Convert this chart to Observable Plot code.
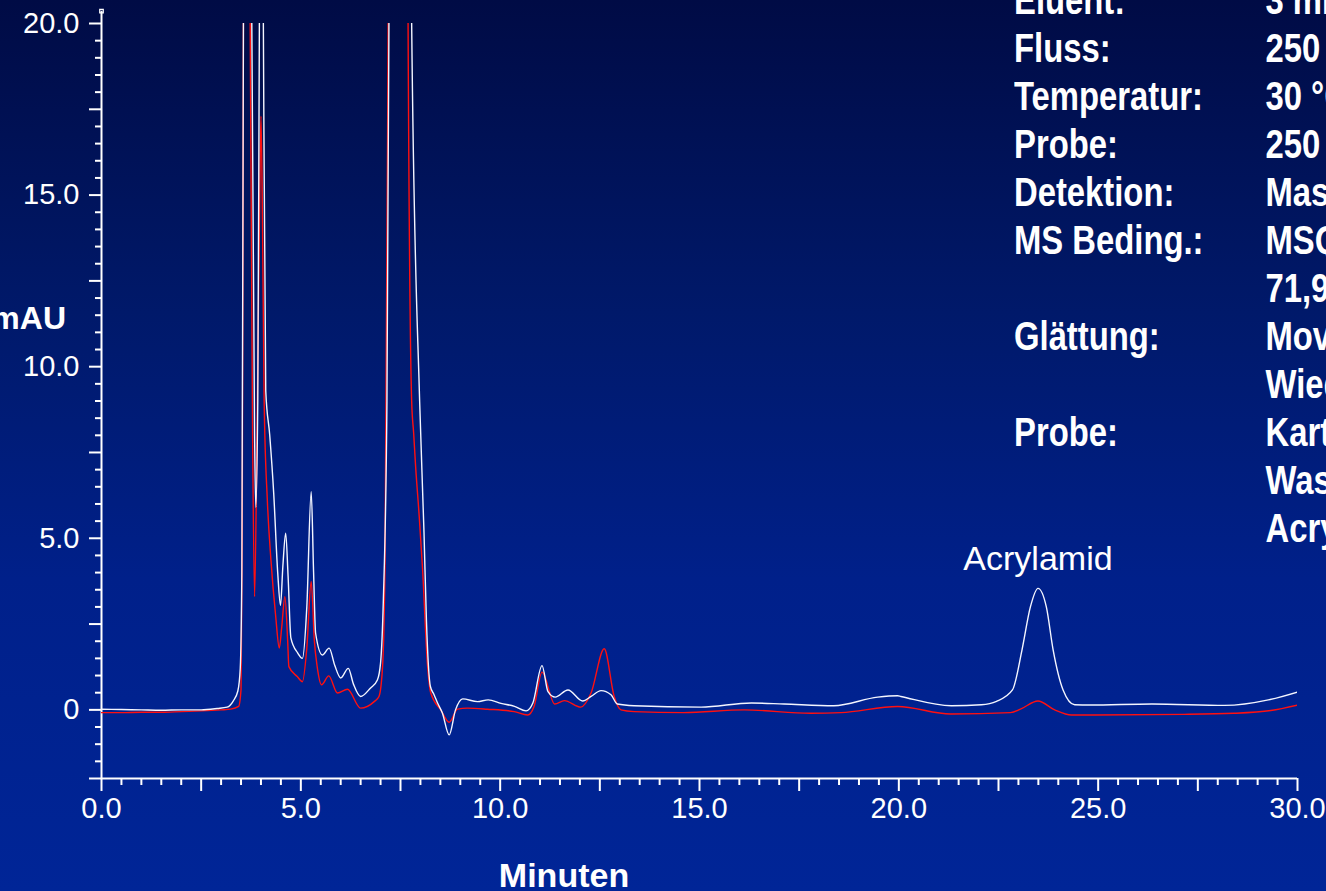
<!DOCTYPE html>
<html lang="de">
<head>
<meta charset="utf-8">
<title>Chromatogramm Acrylamid</title>
<script src="https://cdn.jsdelivr.net/npm/d3@7"></script>
<script src="https://cdn.jsdelivr.net/npm/@observablehq/plot@0.6"></script>
<style>
  html, body { margin: 0; padding: 0; width: 1326px; height: 891px; overflow: hidden; }
  body {
    position: relative;
    font-family: "Liberation Sans", Arial, sans-serif;
    color: #fff;
    background: linear-gradient(to bottom, #000b45 0%, #00196a 35%, #00208a 65%, #002597 100%);
  }
  #chart { position: absolute; left: 0; top: 0; }
  .axis-title { position: absolute; font-weight: bold; line-height: 1; white-space: nowrap; }
  #ytitle { right: 1260px; top: 302px; font-size: 32px; text-align: right; }
  #xtitle { left: 564px; top: 858px; font-size: 34px; transform: translateX(-50%); }
  #method {
    position: absolute; left: 1014px; top: -24px;
    font-size: 40px; font-weight: bold; line-height: 48px; white-space: nowrap;
    transform: scaleX(0.82); transform-origin: 0 0;
  }
  #method .k { display: inline-block; width: 306.7px; }
</style>
</head>
<body>
<div id="chart"></div>
<div id="ytitle" class="axis-title">mAU</div>
<div id="xtitle" class="axis-title">Minuten</div>
<div id="method"></div>
<script>
// Probe (weiße Spur): Retentionszeit [min] und Signal [mAU]
const sampleMinutes = [
  0.00, 0.50, 1.00, 1.50, 2.00, 2.50, 2.90, 3.15, 3.30, 3.42, 3.48, 3.52, 3.56, 3.62, 3.68, 3.74, 3.77,
  3.84, 3.87, 3.92, 3.96, 4.01, 4.06, 4.12, 4.22, 4.32, 4.42, 4.49, 4.55, 4.62, 4.68, 4.75, 4.92, 5.04,
  5.15, 5.26, 5.32, 5.37, 5.54, 5.71, 5.85, 6.00, 6.19, 6.32, 6.50, 6.75, 6.92, 7.00, 7.07, 7.16, 7.21,
  7.30, 7.50, 7.70, 7.78, 7.98, 8.09, 8.15, 8.25, 8.34, 8.43, 8.55, 8.72, 8.88, 9.06, 9.43, 9.70, 10.02,
  10.36, 10.65, 10.82, 11.05, 11.20, 11.38, 11.70, 12.07, 12.28, 12.53, 12.78, 12.94, 13.36, 15.04,
  16.30, 17.12, 18.37, 19.47, 19.97, 20.05, 21.32, 22.07, 22.45, 22.85, 23.09, 23.30, 23.49, 23.70,
  23.87, 24.12, 24.41, 24.80, 26.35, 28.17, 29.27, 30.00
];
const sampleMAU = [
  0.02, 0.01, 0.00, -0.01, 0.00, 0.00, 0.04, 0.08, 0.25, 0.55, 1.2, 4.0, 20, 38, 40, 30, 20,
  8.0, 5.9, 9.0, 20, 32, 20, 9.3, 8.0, 6.3, 4.0, 3.05, 4.2, 5.15, 3.9, 2.1, 1.66, 1.5,
  3.0, 6.36, 4.0, 2.24, 1.6, 1.8, 1.3, 0.93, 1.21, 0.75, 0.39, 0.64, 0.87, 1.37, 3.2, 9.0, 20,
  55, 80, 50, 20, 9.0, 5.15, 2.62, 0.68, 0.45, 0.2, -0.09, -0.73, 0.0, 0.32, 0.24, 0.29, 0.19,
  0.1, -0.03, 0.2, 1.29, 0.53, 0.37, 0.58, 0.26, 0.39, 0.56, 0.44, 0.17, 0.12, 0.08,
  0.2, 0.17, 0.12, 0.37, 0.41, 0.39, 0.12, 0.15, 0.25, 0.58, 1.75, 3.0, 3.54, 3.0,
  1.75, 0.58, 0.15, 0.14, 0.17, 0.13, 0.29, 0.52
];

// Vergleichslauf (rote Spur)
const blankMinutes = [
  0.00, 0.50, 1.00, 1.50, 2.00, 2.50, 3.00, 3.24, 3.44, 3.50, 3.53, 3.56, 3.62, 3.68, 3.73, 3.79, 3.84,
  3.90, 3.97, 4.00, 4.04, 4.08, 4.16, 4.25, 4.37, 4.46, 4.52, 4.60, 4.67, 4.70, 4.91, 5.04, 5.15, 5.26,
  5.34, 5.41, 5.52, 5.70, 5.92, 6.17, 6.50, 6.84, 6.96, 7.05, 7.11, 7.19, 7.30, 7.50, 7.65, 7.69, 7.78,
  7.83, 7.88, 7.97, 8.05, 8.18, 8.26, 8.51, 8.72, 8.93, 9.18, 9.68, 10.35, 10.69, 10.85, 11.05, 11.37,
  11.61, 12.02, 12.28, 12.61, 12.86, 13.03, 13.36, 14.60, 16.12, 17.79, 18.55, 19.97, 21.30, 22.80,
  23.05, 23.49, 23.91, 24.33, 27.15, 28.40, 29.33, 30.00
];
const blankMAU = [
  -0.08, -0.08, -0.07, -0.07, -0.05, -0.03, 0.0, 0.02, 0.1, 0.6, 5.0, 20, 35, 30, 20, 8.0, 3.3,
  8.0, 15, 17.3, 14, 9.0, 6.1, 4.37, 2.72, 1.8, 2.4, 3.3, 2.0, 1.26, 0.97, 0.82, 1.8, 3.74,
  2.0, 1.26, 0.73, 0.99, 0.49, 0.6, 0.05, 0.24, 0.39, 1.26, 4.17, 20, 50, 70, 40, 20, 9.0,
  8.06, 7.08, 5.63, 4.17, 1.26, 0.49, 0.0, -0.36, 0.02, 0.05, 0.02, -0.05, -0.15, 0.1, 1.1, 0.17,
  0.27, 0.08, 0.49, 1.78, 0.39, 0.0, -0.05, -0.08, 0.0, -0.1, -0.08, 0.1, -0.12, -0.08,
  0.02, 0.26, 0.0, -0.15, -0.13, -0.1, -0.02, 0.14
];

// Achsenbeschriftung
const xLabelTicks = [0, 5, 10, 15, 20, 25, 30];
const yLabelTicks = [0, 5, 10, 15, 20];
const peakName = "Acrylamid";

// Methodenangaben
const methodLabels = ["Eluent:", "Fluss:", "Temperatur:", "Probe:", "Detektion:", "MS Beding.:", "",
  "Glättung:", "", "Probe:", "", ""];
const methodValues = ["3 mM Ameisensäure", "250 µl/min", "30 °C", "250 µl", "Massenspektrometrie",
  "MSQ, ESI positiv, SIM", "71,9 m/z", "Moving Average", "Wiederholungen", "Kartoffelchips",
  "Wasserextrakt", "Acrylamid"];

// Achsenbereich
const xDomain = [0, 30];
const yDomain = [-2, 20];
const yAxisTop = 20.36;

const sample = sampleMinutes.map((t, i) => ({t, v: sampleMAU[i]}));
const blank = blankMinutes.map((t, i) => ({t, v: blankMAU[i]}));

// Retentionszeit-Maximum des benannten Peaks
const peak = d3.greatest(sample.filter(d => d.t > 22 && d.t < 25), d => d.v);

const xMajor = d3.range(0, 13).map(i => i * 2.5).filter(d => d % 5 !== 0);
const xMinor = d3.range(0, 61).map(i => i / 2).filter(d => d % 2.5 !== 0);
const yMajor = [yDomain[0], 2.5, 7.5, 12.5, 17.5];
const yMinor = d3.range(-3, 40).map(i => i / 2).filter(d => d % 2.5 !== 0);

const fmtY = d => d === 0 ? "0" : d.toFixed(1);
const fmtX = d => d.toFixed(1);
const blank$ = () => "";

const chart = Plot.plot({
  width: 1326,
  height: 891,
  marginLeft: 101,
  marginRight: 29,
  marginTop: 23,
  marginBottom: 113,
  x: {domain: xDomain},
  y: {domain: yDomain},
  style: {
    background: "transparent",
    color: "white",
    fontFamily: "'Liberation Sans', Arial, sans-serif",
    overflow: "visible"
  },
  marks: [
    // Achslinien
    Plot.ruleX([{x: xDomain[0], y1: yDomain[0], y2: yAxisTop}], {x: "x", y1: "y1", y2: "y2", stroke: "white", strokeWidth: 2}),
    Plot.ruleY([{y: yDomain[0], x1: xDomain[0], x2: xDomain[1]}], {y: "y", x1: "x1", x2: "x2", stroke: "white", strokeWidth: 2}),
    Plot.dot([{x: xDomain[0], y: yAxisTop}], {x: "x", y: "y", symbol: "square", r: 2, stroke: "white", strokeWidth: 1.2, fill: "none"}),

    // Y-Achse
    Plot.axisY({ticks: yLabelTicks, tickSize: 12, tickPadding: 10, tickFormat: fmtY, fontSize: 29, strokeWidth: 2}),
    Plot.axisY({ticks: yMajor, tickSize: 12, tickFormat: blank$, strokeWidth: 2}),
    Plot.axisY({ticks: yMinor, tickSize: 6, tickFormat: blank$, strokeWidth: 2}),

    // X-Achse
    Plot.axisX({ticks: xLabelTicks, tickSize: 13, tickPadding: 6, tickFormat: fmtX, fontSize: 29, strokeWidth: 2}),
    Plot.axisX({ticks: xMajor, tickSize: 13, tickFormat: blank$, strokeWidth: 2}),
    Plot.axisX({ticks: xMinor, tickSize: 7, tickFormat: blank$, strokeWidth: 2}),

    // Chromatogramme
    Plot.line(blank, {x: "t", y: "v", stroke: "#ff1010", strokeWidth: 1.4, curve: "monotone-x", clip: true}),
    Plot.line(sample, {x: "t", y: "v", stroke: "#f4f6ff", strokeWidth: 1.4, curve: "monotone-x", clip: true}),

    // Peakbezeichnung
    Plot.text([peak], {x: "t", y: "v", text: () => peakName, dy: -29, fontSize: 34, fill: "white"})
  ]
});
document.getElementById("chart").append(chart);

// Methodenblock
const method = d3.select("#method");
methodLabels.forEach((label, i) => {
  const row = method.append("div");
  row.append("span").attr("class", "k").text(label);
  row.append("span").attr("class", "v").text(methodValues[i]);
});
</script>
</body>
</html>
